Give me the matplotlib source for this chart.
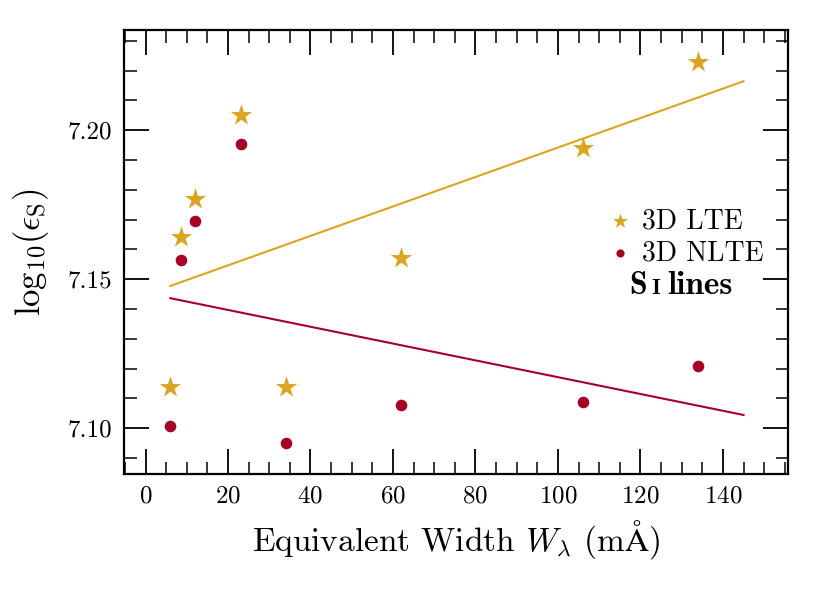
import numpy as np
import matplotlib
matplotlib.use('Agg')
import matplotlib.pyplot as plt
from matplotlib.ticker import MultipleLocator

# data
ew = [6, 8.7, 12.1, 23.2, 34.1, 62.0, 106.0, 134.0]
lte = [7.1138, 7.164, 7.1768, 7.205, 7.1138, 7.157, 7.194, 7.223]
nlte = [7.1007, 7.1564, 7.1695, 7.1953, 7.095, 7.1077, 7.1087, 7.1208]

# fitted trend lines (end points)
fit_x = [6, 145]
lte_fit = [7.1477, 7.2164]
nlte_fit = [7.1436, 7.1044]

gold = '#DAA520'
red = '#A50026'

plt.rcParams['font.family'] = 'serif'
plt.rcParams['font.serif'] = ['cmr10']
plt.rcParams['mathtext.fontset'] = 'cm'
plt.rcParams['axes.formatter.use_mathtext'] = True

fig = plt.figure(figsize=(8.3, 5.93), dpi=100)
ax = fig.add_axes([0.149, 0.2007, 0.8, 0.7487])

ax.plot(fit_x, lte_fit, color=gold, lw=1.5, zorder=1)
ax.plot(fit_x, nlte_fit, color=red, lw=1.5, zorder=1)
ax.scatter(ew, lte, marker='*', s=260, color=gold, lw=0, label='3D LTE', zorder=3)
ax.scatter(ew, nlte, marker='o', s=70, color=red, lw=0, label='3D NLTE', zorder=3)

ax.set_xlim(-5.3, 155.7)
ax.set_ylim(7.0846, 7.2336)
ax.xaxis.set_major_locator(MultipleLocator(20))
ax.xaxis.set_minor_locator(MultipleLocator(5))
ax.yaxis.set_major_locator(MultipleLocator(0.05))
ax.yaxis.set_minor_locator(MultipleLocator(0.01))
ax.yaxis.set_major_formatter(matplotlib.ticker.FormatStrFormatter('%.2f'))

ax.tick_params(which='both', direction='in', top=True, right=True, labelsize=18)
ax.tick_params(which='major', length=18, width=1.3, pad=8)
ax.tick_params(which='minor', length=9, width=1.1)
for s in ax.spines.values():
    s.set_linewidth(1.6)

ax.set_xlabel(r'Equivalent Width $W_\lambda$ (m$\mathrm{\AA}$)', fontsize=24, labelpad=8)
ax.set_ylabel(r'$\mathrm{log}_{10}(\epsilon_{\rm S})$', fontsize=25, labelpad=12)

leg = ax.legend(loc='center left', bbox_to_anchor=(0.697, 0.534), frameon=False,
                fontsize=20, handletextpad=0.0, markerscale=0.7, labelspacing=0.2,
                borderaxespad=0, handlelength=1.6)
ax.text(0.762, 0.405, 'S', transform=ax.transAxes, fontsize=23, family='cmb10')
ax.text(0.795, 0.405, 'I', transform=ax.transAxes, fontsize=16, family='cmb10')
ax.text(0.819, 0.405, 'lines', transform=ax.transAxes, fontsize=24, family='cmb10')

fig.savefig('out.png', dpi=100)
